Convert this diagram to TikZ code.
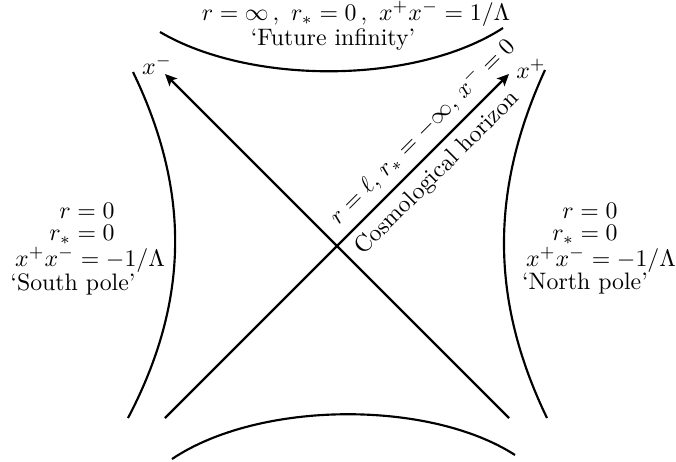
\documentclass[tikz,border=0pt]{standalone}
\usetikzlibrary{arrows.meta}
\begin{document}
\begin{tikzpicture}[x=0.42pt,y=-0.42pt,
  bound/.style={line width=0.9pt},
  axis/.style={line width=0.9pt,-{Stealth[length=5pt,width=4.6pt,inset=1.2pt]}},
  lbl/.style={inner sep=0pt,align=center}]
\useasboundingbox (0,0) rectangle (676,461);
% boundaries
\draw[bound] (160,32) .. controls (250,85) and (415,85) .. (503,28);
\draw[bound] (172,459) .. controls (260,400) and (430,400) .. (515,455);
\draw[bound] (133,72) .. controls (190,190) and (190,300) .. (128,418);
\draw[bound] (545,70) .. controls (490,190) and (490,300) .. (547,418);
% null lines
\coordinate (p1) at (165,418);
\coordinate (p2) at (509,74);
\coordinate (m1) at (509,418);
\coordinate (m2) at (165,74);
\draw[axis] (p1) -- (p2)
  node[pos=0.79,sloped,above] (hl) {$r=\ell,\, r_*=-\infty,\, x^-=0$}
  node[pos=0.752,sloped,below] (hc) {Cosmological horizon};
\draw[axis] (m1) -- (m2);
\node[lbl] (xp) at (531,69) {$x^+$};
\node[lbl] (xm) at (157,65) {$x^-$};
% top
\node[lbl] (top1) at (356,14) {$r=\infty\,,\ r_*=0\,,\ x^+x^-=1/\Lambda$};
\node[lbl] (top2) at (333,40) {`Future infinity'};
% left
\node[lbl] (l1) at (87,211) {$r=0$};
\node[lbl] (l2) at (82,235) {$r_*=0$};
\node[lbl] (l3) at (90,260) {$x^+x^-=-1/\Lambda$};
\node[lbl] (l4) at (73,284) {`South pole'};
% right
\node[lbl] (r1) at (590,211) {$r=0$};
\node[lbl] (r2) at (585,235) {$r_*=0$};
\node[lbl] (r3) at (601,260) {$x^+x^-=-1/\Lambda$};
\node[lbl] (r4) at (585,284) {`North pole'};
\end{tikzpicture}
\end{document}
